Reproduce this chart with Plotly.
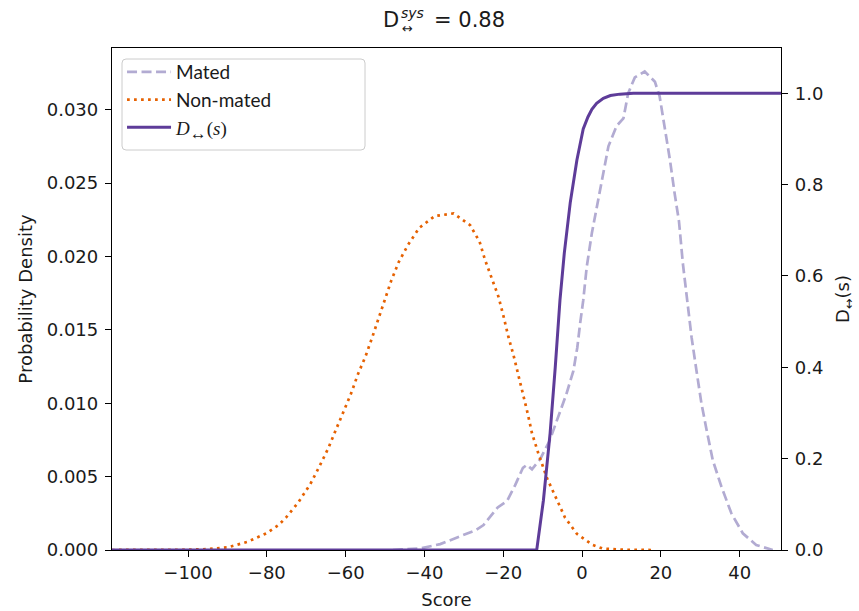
import plotly.graph_objects as go

# Score axis samples and densities for each distribution
mated_score = [-48, -45, -41, -36, -31, -27, -25, -23, -21.4, -19, -17, -15, -14, -12.7,
               -10.6, -8.3, -6.4, -4, -2.2, -1.2, -0.5, 0.3, 1.2, 2.5, 3.5, 5.0, 6.7,
               8.8, 10.5, 11.7, 13.4, 15.9, 18.5, 19.7, 21.0, 22.3, 23.5, 24.6, 25.6,
               26.7, 27.8, 29.0, 30.3, 31.6, 33.2, 35.4, 37.9, 40.8, 44.2, 48.4]
mated_density = [0.0, 0.00003, 0.00011, 0.0004, 0.0009, 0.00135, 0.0017, 0.0024, 0.0029,
                 0.00335, 0.0044, 0.0056, 0.0058, 0.0055, 0.0062, 0.0074, 0.00885, 0.0106,
                 0.0122, 0.0138, 0.0154, 0.0170, 0.0193, 0.0216, 0.0230, 0.0250, 0.0275,
                 0.0289, 0.0294, 0.0311, 0.0322, 0.0326, 0.0319, 0.0309, 0.0288, 0.0266,
                 0.0243, 0.0224, 0.0195, 0.0168, 0.0145, 0.0123, 0.0100, 0.0082, 0.0061,
                 0.0043, 0.0025, 0.00114, 0.00034, 0.0]

nonmated_score = [-119.3, -110, -100, -95, -90, -85, -80, -77, -75, -72, -69, -66.7, -64.4,
                  -62.5, -60.6, -58.6, -56.9, -54.9, -53.2, -51.6, -49.9, -48.4, -46.5,
                  -44.1, -41.3, -37.4, -32.6, -28.4, -26.0, -24.6, -22.9, -21.2, -19.9,
                  -18.7, -17.4, -16.1, -14.9, -13.8, -12.7, -11.1, -8.9, -6.4, -4.3, -1.3,
                  2.7, 5.2, 10, 18]
nonmated_density = [0.0, 0.0, 0.00002, 0.00006, 0.00018, 0.00055, 0.00115, 0.0017, 0.00225,
                    0.00325, 0.00447, 0.00567, 0.00693, 0.00817, 0.00942, 0.01067, 0.01196,
                    0.01323, 0.01453, 0.01578, 0.01707, 0.01837, 0.01963, 0.02082, 0.02195,
                    0.02275, 0.02293, 0.02213, 0.0210, 0.01975, 0.0185, 0.01725, 0.01589,
                    0.01453, 0.01328, 0.01192, 0.01056, 0.00931, 0.00795, 0.00659, 0.0049,
                    0.0034, 0.0022, 0.0011, 0.00035, 0.0001, 0.00002, 0.0]

# D(s) curve, plotted against the right-hand axis
d_score = [-119.3, -11.5, -9.8, -8.1, -6.8, -5.6, -4.5, -3.0, -1.3, 0.3, 1.5, 2.5, 3.7,
           5.4, 7.2, 9.6, 13, 50.5]
d_value = [0.0, 0.0, 0.109, 0.256, 0.40, 0.547, 0.65, 0.76, 0.854, 0.922, 0.948, 0.965,
           0.978, 0.989, 0.995, 0.998, 1.0, 1.0]

x_ticks = [-100, -80, -60, -40, -20, 0, 20, 40]
y_ticks = [0.0, 0.005, 0.010, 0.015, 0.020, 0.025, 0.030]
y2_ticks = [0.0, 0.2, 0.4, 0.6, 0.8, 1.0]

system_d = 0.88

PURPLE_LIGHT = "#b2abd2"
ORANGE = "#e66101"
PURPLE = "#5e3c99"
FONT = "DejaVu Sans"
INK = "#1a1a1a"

fig = go.Figure()
fig.add_trace(go.Scatter(
    x=mated_score, y=mated_density, mode="lines", name="Mated",
    line=dict(color=PURPLE_LIGHT, width=2.7, dash="10px,4.5px"),
    legendgroup="a"))
fig.add_trace(go.Scatter(
    x=nonmated_score, y=nonmated_density, mode="lines", name="Non-mated",
    line=dict(color=ORANGE, width=2.7, dash="2.7px,4.3px"),
    legendgroup="b"))
fig.add_trace(go.Scatter(
    x=d_score, y=d_value, mode="lines", yaxis="y2",
    name=("<span style='font-family:\"Liberation Serif\"'><i>D</i>"
          "<sub><span style='font-size:17px'>↔</span></sub>(<i>s</i>)</span>"),
    line=dict(color=PURPLE, width=3),
    legendgroup="c"))

axis_common = dict(
    showgrid=False, zeroline=False, showline=True, linecolor="black", linewidth=1.3,
    ticks="outside", ticklen=6, tickwidth=1.3, tickcolor="black", automargin=False,
    tickfont=dict(family=FONT, size=18, color=INK),
)

fig.update_layout(
    width=859, height=611,
    margin=dict(l=112, r=78, t=48, b=61, pad=0, autoexpand=False),
    paper_bgcolor="white", plot_bgcolor="white",
    xaxis=dict(range=[-119.3, 50.5], tickvals=x_ticks, mirror=True,
               title=dict(text="Score", font=dict(family=FONT, size=18, color=INK),
                          standoff=11),
               **axis_common),
    yaxis=dict(range=[0, 0.0342], tickvals=y_ticks, tickformat=".3f", mirror=True,
               ticklabelstandoff=3,
               title=dict(text="Probability Density",
                          font=dict(family=FONT, size=18, color=INK), standoff=9),
               **axis_common),
    yaxis2=dict(range=[0, 1.099], tickvals=y2_ticks, tickformat=".1f", overlaying="y",
                side="right", ticklabelstandoff=3,
                title=dict(text="D<sub>↔</sub>(s)",
                           font=dict(family=FONT, size=18, color=INK), standoff=14),
                **axis_common),
    legend=dict(x=0.015, y=0.99, xanchor="left", yanchor="top",
                bgcolor="rgba(0,0,0,0)", borderwidth=0,
                font=dict(family="Lato", size=19, color=INK), itemwidth=44,
                traceorder="grouped", tracegroupgap=0),
    showlegend=True,
)


def px_x(p):
    return (p - 112) / 669


def px_y(p):
    return (550 - p) / 502


# Legend frame: light rounded box behind the legend entries
bx0, by0, bx1, by1, r = 122, 59, 365, 150, 4
rx, ry = r / 669, r / 502
X0, X1, Y0, Y1 = px_x(bx0), px_x(bx1), px_y(by1), px_y(by0)
frame = (f"M{X0 + rx},{Y0} L{X1 - rx},{Y0} Q{X1},{Y0} {X1},{Y0 + ry} "
         f"L{X1},{Y1 - ry} Q{X1},{Y1} {X1 - rx},{Y1} L{X0 + rx},{Y1} "
         f"Q{X0},{Y1} {X0},{Y1 - ry} L{X0},{Y0 + ry} Q{X0},{Y0} {X0 + rx},{Y0} Z")
fig.add_shape(type="path", path=frame, xref="paper", yref="paper", layer="above",
              fillcolor="rgba(255,255,255,0.85)", line=dict(color="#cccccc", width=1))

# Title: D with stacked superscript "sys" and subscript arrow
title_parts = [
    ("D", 21, 382, 20),
    ("<i>sys</i>", 14, 400, 12.5),
    ("↔", 13, 401, 28),
    (f"= {system_d:.2f}", 21, 433, 20),
]
for text, size, xp, yp in title_parts:
    fig.add_annotation(text=text, xref="paper", yref="paper", x=px_x(xp), y=px_y(yp),
                       xanchor="left", yanchor="middle", showarrow=False,
                       font=dict(family=FONT, size=size, color=INK), borderpad=0)

fig.write_html("out.html")
